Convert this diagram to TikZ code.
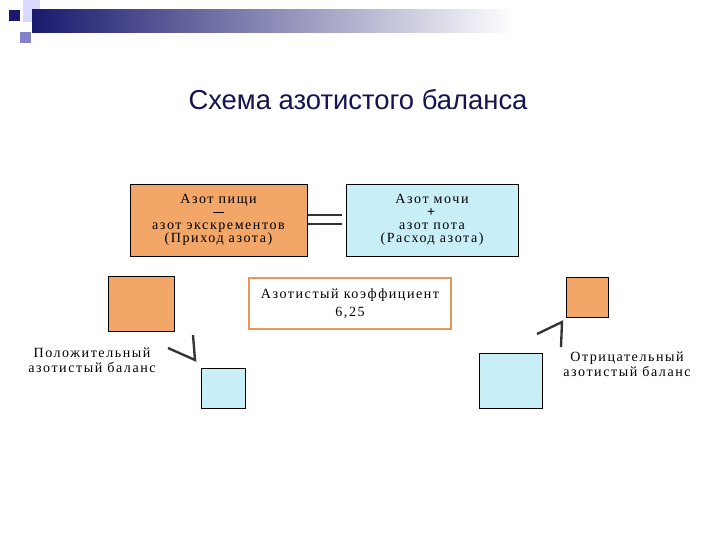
\documentclass[tikz,border=0pt]{standalone}
\usepackage{fontspec}
\setmainfont{Liberation Serif}[LetterSpace=11]
\newfontfamily\titlefont{Liberation Sans}
\usepackage{tikz}
\usetikzlibrary{positioning,calc}

\definecolor{navy}{RGB}{25,25,110}
\definecolor{boxorange}{RGB}{242,166,104}
\definecolor{boxblue}{RGB}{200,238,248}
\definecolor{rimorange}{RGB}{232,150,90}
\definecolor{titleblue}{RGB}{20,20,80}

\newcommand{\minusbar}{\rule[0.25em]{0.8em}{1.3pt}}
\newcommand{\plusmark}{\textbf{+}}

\begin{document}
\begin{tikzpicture}[
    x=0.03cm, y=-0.03cm,
    b1/.style={rectangle, draw=black, fill=boxorange, line width=0.6pt, align=center, inner sep=0pt, font=\fontsize{12}{11.2}\selectfont},
    b2/.style={rectangle, draw=black, fill=boxblue, line width=0.6pt, align=center, inner sep=0pt, font=\fontsize{12}{11.2}\selectfont},
    b3/.style={rectangle, draw=rimorange, fill=white, line width=2.2pt, align=center, inner sep=0pt, font=\fontsize{12}{15}\selectfont},
    sq1/.style={rectangle, draw=black, fill=boxorange, line width=0.6pt, inner sep=0pt},
    sq2/.style={rectangle, draw=black, fill=boxblue, line width=0.6pt, inner sep=0pt},
    lbl/.style={align=center, inner sep=0pt, font=\fontsize{12}{13}\selectfont},
    sign/.style={draw=black!80, line width=2pt}
]
    \useasboundingbox (0,0) rectangle (720,540);

    % header
    \fill [blue!15] (23,0) rectangle (40,22);
    \fill [navy] (9,10) rectangle (20,21);
    \fill [blue!40!gray!70] (20,32) rectangle (31,43);
    \shade [left color=navy, right color=white] (32,10) rectangle (515,33);

    \node [font=\titlefont\fontsize{23.4}{26}\selectfont, text=titleblue] (title) at (358,100) {Схема азотистого баланса};

    % balance equation
    \node [b1, minimum width=177*0.03cm, minimum height=72*0.03cm] (n1) at (218.5,220)
        {Азот пищи\\\minusbar\\азот экскрементов\\(Приход азота)};
    \node [b2, minimum width=172*0.03cm, minimum height=72*0.03cm] (n2) at (432,220)
        {Азот мочи\\\plusmark\\азот пота\\(Расход азота)};
    \draw [sign, line width=2.5pt] (308,215) -- (342,215);
    \draw [sign, line width=2.5pt] (308,224) -- (342,224);

    \node [b3, minimum width=202*0.03cm, minimum height=51*0.03cm] (n3) at (350,303.5)
        {Азотистый коэффициент\\6,25};

    % positive balance
    \node [sq1, minimum width=66*0.03cm, minimum height=55*0.03cm] (p1) at (141,303.5) {};
    \node [sq2, minimum width=44*0.03cm, minimum height=40*0.03cm] (p2) at (223,388) {};
    \draw [sign] (168,348) -- (195,360) -- (193,335);
    \node [lbl] (plabel) at (92,360) {Положительный\\азотистый баланс};

    % negative balance
    \node [sq1, minimum width=42*0.03cm, minimum height=40*0.03cm] (m1) at (587,297) {};
    \node [sq2, minimum width=63*0.03cm, minimum height=55*0.03cm] (m2) at (510.5,380.5) {};
    \draw [sign] (537,334) -- (562,322) -- (561,347);
    \node [lbl] (mlabel) at (627,364) {Отрицательный\\азотистый баланс};
\end{tikzpicture}
\end{document}
